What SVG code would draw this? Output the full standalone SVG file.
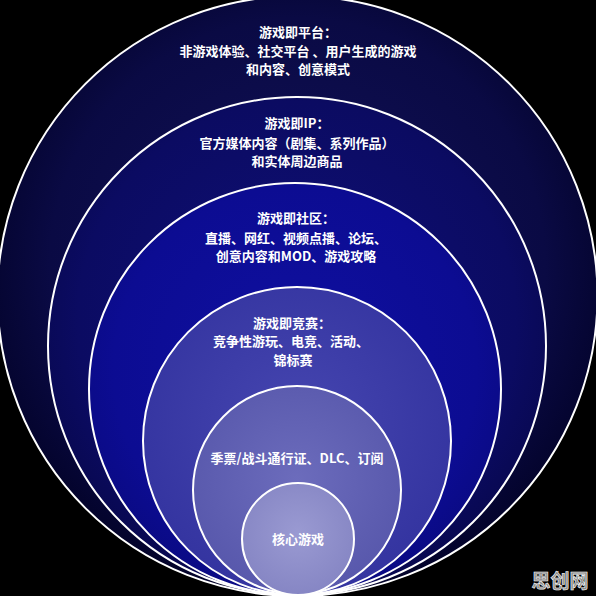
<svg xmlns="http://www.w3.org/2000/svg" width="596" height="596" viewBox="0 0 596 596">
  <style>
    .ring { stroke: #ffffff; stroke-width: 2; }
    .t { font-family: "Noto Sans CJK SC", "Noto Sans", sans-serif; font-size: 13px; font-weight: bold; fill: #ffffff; text-anchor: middle; dominant-baseline: central; }
    .wm { font-family: "Noto Sans CJK SC", sans-serif; font-size: 19px; font-weight: bold; fill: #8a8a8a; stroke: #ffffff; stroke-width: 0.6; text-anchor: middle; }
  </style>
  <defs>
    <radialGradient id="g1" cx="50%" cy="45%" r="55%">
      <stop offset="0" stop-color="#12125c"/>
      <stop offset="0.75" stop-color="#0a0a44"/>
      <stop offset="1" stop-color="#03032a"/>
    </radialGradient>
    <radialGradient id="g2" cx="50%" cy="45%" r="55%">
      <stop offset="0" stop-color="#10107a"/>
      <stop offset="0.8" stop-color="#0b0b62"/>
      <stop offset="1" stop-color="#080850"/>
    </radialGradient>
    <radialGradient id="g3" cx="50%" cy="45%" r="55%">
      <stop offset="0" stop-color="#1010a2"/>
      <stop offset="0.8" stop-color="#0c0c92"/>
      <stop offset="1" stop-color="#0a0a84"/>
    </radialGradient>
    <radialGradient id="g4" cx="50%" cy="45%" r="55%">
      <stop offset="0" stop-color="#4646b0"/>
      <stop offset="1" stop-color="#3434a0"/>
    </radialGradient>
    <radialGradient id="g5" cx="50%" cy="45%" r="55%">
      <stop offset="0" stop-color="#6c6cbc"/>
      <stop offset="1" stop-color="#5858ac"/>
    </radialGradient>
    <radialGradient id="g6" cx="50%" cy="45%" r="55%">
      <stop offset="0" stop-color="#9a9ad2"/>
      <stop offset="1" stop-color="#8686c4"/>
    </radialGradient>
  </defs>
  <rect width="596" height="596" fill="#000000"/>

  <g id="node-platform">
    <circle class="ring" cx="297.5" cy="296" r="300" fill="url(#g1)" stroke-width="2.5"/>
    <text class="t" x="298" y="31">游戏即平台：</text>
    <text class="t" x="298" y="50">非游戏体验、社交平台 、用户生成的游戏</text>
    <text class="t" x="298" y="68">和内容、创意模式</text>
  </g>

  <g id="node-ip">
    <circle class="ring" cx="297" cy="346" r="249" fill="url(#g2)"/>
    <text class="t" x="297" y="122">游戏即IP：</text>
    <text class="t" x="297" y="142">官方媒体内容（剧集、系列作品）</text>
    <text class="t" x="297" y="160">和实体周边商品</text>
  </g>

  <g id="node-community">
    <circle class="ring" cx="295" cy="389" r="206" fill="url(#g3)"/>
    <text class="t" x="296" y="217">游戏即社区：</text>
    <text class="t" x="296" y="237">直播、网红、视频点播、论坛、</text>
    <text class="t" x="296" y="255">创意内容和MOD、游戏攻略</text>
  </g>

  <g id="node-esports">
    <circle class="ring" cx="297" cy="441" r="154" fill="url(#g4)"/>
    <text class="t" x="292" y="322">游戏即竞赛：</text>
    <text class="t" x="291" y="340">竞争性游玩、电竞、活动、</text>
    <text class="t" x="293" y="359">锦标赛</text>
  </g>

  <g id="node-pass">
    <circle class="ring" cx="297" cy="490" r="104" fill="url(#g5)"/>
    <text class="t" x="297" y="457">季票/战斗通行证、DLC、订阅</text>
  </g>

  <g id="node-core">
    <circle class="ring" cx="298" cy="539" r="56" fill="url(#g6)"/>
    <text class="t" x="298" y="538">核心游戏</text>
  </g>

  <g id="connectors"></g>

  <text class="wm" x="560" y="588">思创网</text>
</svg>
